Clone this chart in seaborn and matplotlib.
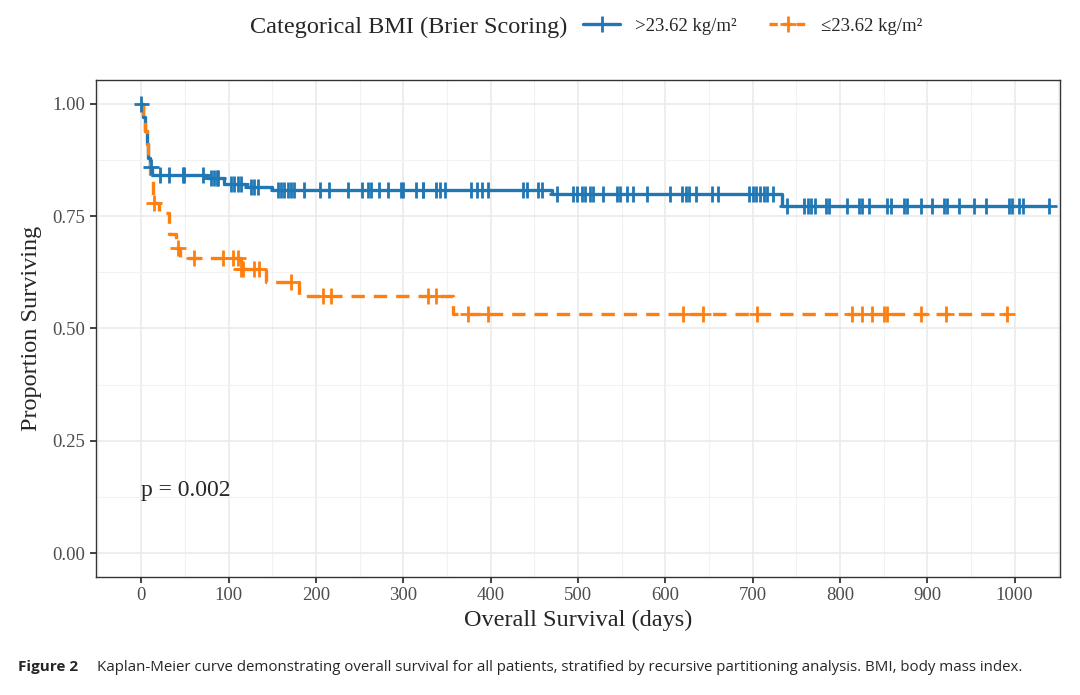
import numpy as np
import pandas as pd
import seaborn as sns
import matplotlib.pyplot as plt
from matplotlib.lines import Line2D
from matplotlib.ticker import MultipleLocator

# step times (days) and survival estimates
hi_label = ">23.62 kg/m²"
lo_label = "≤23.62 kg/m²"

hi_times = [0, 2, 4, 6, 8, 10, 12, 75, 95, 120, 150, 470, 734]
hi_surv = [1.0, 0.97, 0.94, 0.91, 0.88, 0.86, 0.842, 0.835, 0.822, 0.815, 0.808, 0.799, 0.772]
hi_censor = [0, 11, 21, 32, 48, 49, 71, 80, 83, 86, 88, 103, 106, 111, 114, 126, 129, 134,
             156, 160, 163, 168, 171, 175, 186, 205, 215, 237, 253, 260, 263, 272, 282, 297,
             300, 314, 322, 323, 337, 342, 348, 377, 384, 390, 397, 437, 442, 454, 459, 476,
             494, 499, 505, 508, 514, 517, 529, 545, 548, 556, 563, 579, 605, 619, 624, 627,
             635, 654, 660, 696, 700, 704, 708, 713, 716, 723, 739, 759, 763, 767, 771, 784,
             787, 808, 822, 825, 833, 854, 858, 873, 877, 893, 905, 919, 922, 936, 953, 967,
             993, 997, 1005, 1010, 1039]

lo_times = [0, 2, 4, 6, 8, 10, 13, 20, 32, 40, 44, 114, 143, 180, 357]
lo_surv = [1.0, 0.97, 0.94, 0.91, 0.88, 0.84, 0.78, 0.757, 0.71, 0.68, 0.657, 0.633, 0.604, 0.572, 0.533]
lo_censor = [14, 42, 60, 94, 105, 111, 114, 116, 129, 135, 171, 208, 217, 328, 337, 374, 397,
             620, 643, 705, 814, 825, 837, 850, 854, 893, 921, 991]

p_text = "p = 0.002"


def curve(label, times, surv, censor):
    t = list(times) + [max(censor)]
    s = list(surv) + [surv[-1]]
    steps = pd.DataFrame({"time": t, "surv": s, "group": label})
    idx = np.searchsorted(times, censor, side="right") - 1
    marks = pd.DataFrame({"time": censor, "surv": np.array(surv)[idx], "group": label})
    return steps, marks


hs, hm = curve(hi_label, hi_times, hi_surv, hi_censor)
ls, lm = curve(lo_label, lo_times, lo_surv, lo_censor)
steps = pd.concat([hs, ls], ignore_index=True)
marks = pd.concat([hm, lm], ignore_index=True)

sns.set_theme(style="white")
plt.rcParams["font.family"] = ["Liberation Serif", "DejaVu Serif"]

pal = {hi_label: "#1f77b4", lo_label: "#ff7f0e"}
dash = {hi_label: "", lo_label: (4, 2.7)}

fig = plt.figure(figsize=(10.8, 6.95), dpi=100)
ax = fig.add_axes([0.0889, 0.1698, 0.8926, 0.7151])

sns.lineplot(data=steps, x="time", y="surv", hue="group", style="group", palette=pal,
             dashes=dash, drawstyle="steps-post", estimator=None, linewidth=2.4,
             legend=False, ax=ax)
sns.scatterplot(data=marks, x="time", y="surv", hue="group", palette=pal, marker="+",
                s=130, linewidth=2.0, legend=False, ax=ax, zorder=3)

ax.set_xlim(-52, 1052)
ax.set_ylim(-0.053, 1.053)
ax.xaxis.set_major_locator(MultipleLocator(100))
ax.xaxis.set_minor_locator(MultipleLocator(50))
ax.yaxis.set_major_locator(MultipleLocator(0.25))
ax.yaxis.set_minor_locator(MultipleLocator(0.125))
ax.set_yticklabels([f"{v:.2f}" for v in ax.get_yticks()])
ax.grid(which="major", color="#EBEBEB", linewidth=1.2)
ax.grid(which="minor", color="#F2F2F2", linewidth=0.8)
ax.set_axisbelow(True)
for sp in ax.spines.values():
    sp.set_color("#333333")
    sp.set_linewidth(1.0)
ax.tick_params(axis="both", which="major", direction="out", length=4, width=1.3,
               color="#333333", labelsize=13.5, labelcolor="#4D4D4D", left=True, bottom=True)
ax.tick_params(which="minor", length=0)
ax.set_xlabel("Overall Survival (days)", fontsize=17.5, labelpad=4)
ax.set_ylabel("Proportion Surviving", fontsize=17.5, labelpad=8)

ax.text(0, 0.14, p_text, fontsize=17, ha="left", va="center")

# legend across the top
fig.text(0.2315, 0.961, "Categorical BMI (Brier Scoring)", fontsize=17.5, ha="left", va="center")
handles = [Line2D([], [], color=pal[hi_label], linewidth=2.4, marker="+", markersize=11,
                  markeredgewidth=2.0),
           Line2D([], [], color=pal[lo_label], linewidth=2.4, linestyle=(0, (2.5, 1.6)),
                  marker="+", markersize=11, markeredgewidth=2.0)]
fig.legend(handles, [hi_label, lo_label], ncol=2, loc="center left",
           bbox_to_anchor=(0.524, 0.962), frameon=False, fontsize=13.5,
           handlelength=2.0, handletextpad=0.8, columnspacing=1.7)

# caption
fig.text(0.017, 0.04, "Figure 2", fontsize=11, fontweight="bold", family="Open Sans",
         ha="left", va="center")
fig.text(0.09, 0.04, "Kaplan-Meier curve demonstrating overall survival for all patients, "
         "stratified by recursive partitioning analysis. BMI, body mass index.",
         fontsize=10.85, family="Open Sans", ha="left", va="center")

fig.savefig("out.png", dpi=100)
